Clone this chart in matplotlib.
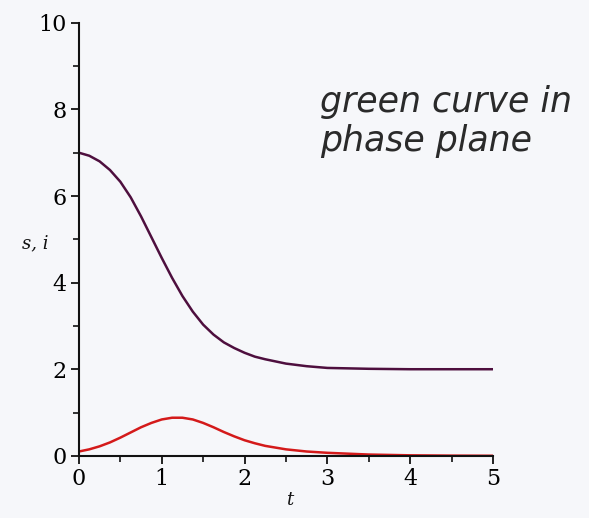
import matplotlib
matplotlib.use("Agg")
import matplotlib.pyplot as plt
from matplotlib.ticker import MultipleLocator

# sampled solution of the s, i system
t_vals = [0.0, 0.125, 0.25, 0.375, 0.5, 0.625, 0.75, 0.875, 1.0, 1.125, 1.25, 1.375,
          1.5, 1.625, 1.75, 1.875, 2.0, 2.125, 2.25, 2.5, 2.75, 3.0, 3.5, 4.0, 4.5, 5.0]
s_vals = [7.00, 6.93, 6.80, 6.60, 6.33, 5.97, 5.53, 5.05, 4.57, 4.11, 3.69, 3.33,
          3.03, 2.80, 2.62, 2.49, 2.38, 2.29, 2.23, 2.13, 2.07, 2.03, 2.01, 2.00, 2.00, 2.00]
i_vals = [0.10, 0.15, 0.22, 0.31, 0.42, 0.54, 0.66, 0.76, 0.84, 0.88, 0.88, 0.84,
          0.76, 0.66, 0.55, 0.45, 0.36, 0.29, 0.23, 0.15, 0.10, 0.07, 0.03, 0.012, 0.005, 0.002]

x_ticks = [0, 1, 2, 3, 4, 5]
y_ticks = [0, 2, 4, 6, 8, 10]

bg = "#f6f7fa"
fig = plt.figure(figsize=(5.89, 5.18), dpi=100, facecolor=bg)
ax = fig.add_axes([0.134, 0.120, 0.703, 0.836])
ax.set_facecolor(bg)

ax.plot(t_vals, s_vals, color="#4e0f3e", lw=1.8, solid_joinstyle="round")
ax.plot(t_vals, i_vals, color="#d41a1a", lw=1.8, solid_joinstyle="round")

ax.set_xlim(0, 5)
ax.set_ylim(0, 10)
ax.set_xticks(x_ticks)
ax.set_yticks(y_ticks)
ax.xaxis.set_minor_locator(MultipleLocator(0.5))
ax.yaxis.set_minor_locator(MultipleLocator(1))

for side in ("top", "right"):
    ax.spines[side].set_visible(False)
for side in ("left", "bottom"):
    ax.spines[side].set_linewidth(1.5)
    ax.spines[side].set_color("#111111")

serif = ["DejaVu Serif"]
ax.tick_params(which="major", direction="out", length=6, width=1.3, color="#111111",
               labelsize=16, pad=3)
ax.tick_params(which="minor", direction="out", length=4, width=1.2, color="#111111")
for lab in ax.get_xticklabels() + ax.get_yticklabels():
    lab.set_family(serif)

fig.text(0.060, 0.530, "s, i", fontsize=13, style="italic", family=serif,
         ha="center", va="center", color="#111111")
fig.text(0.491, 0.035, "t", fontsize=13, style="italic", family=serif,
         ha="center", va="center", color="#111111")

fig.text(0.543, 0.765, "green curve in\nphase plane", fontsize=25, style="italic",
         family=["DejaVu Sans"], ha="left", va="center", color="#2a2a2a",
         linespacing=1.2)

fig.savefig("out.png", dpi=100, facecolor=bg)
